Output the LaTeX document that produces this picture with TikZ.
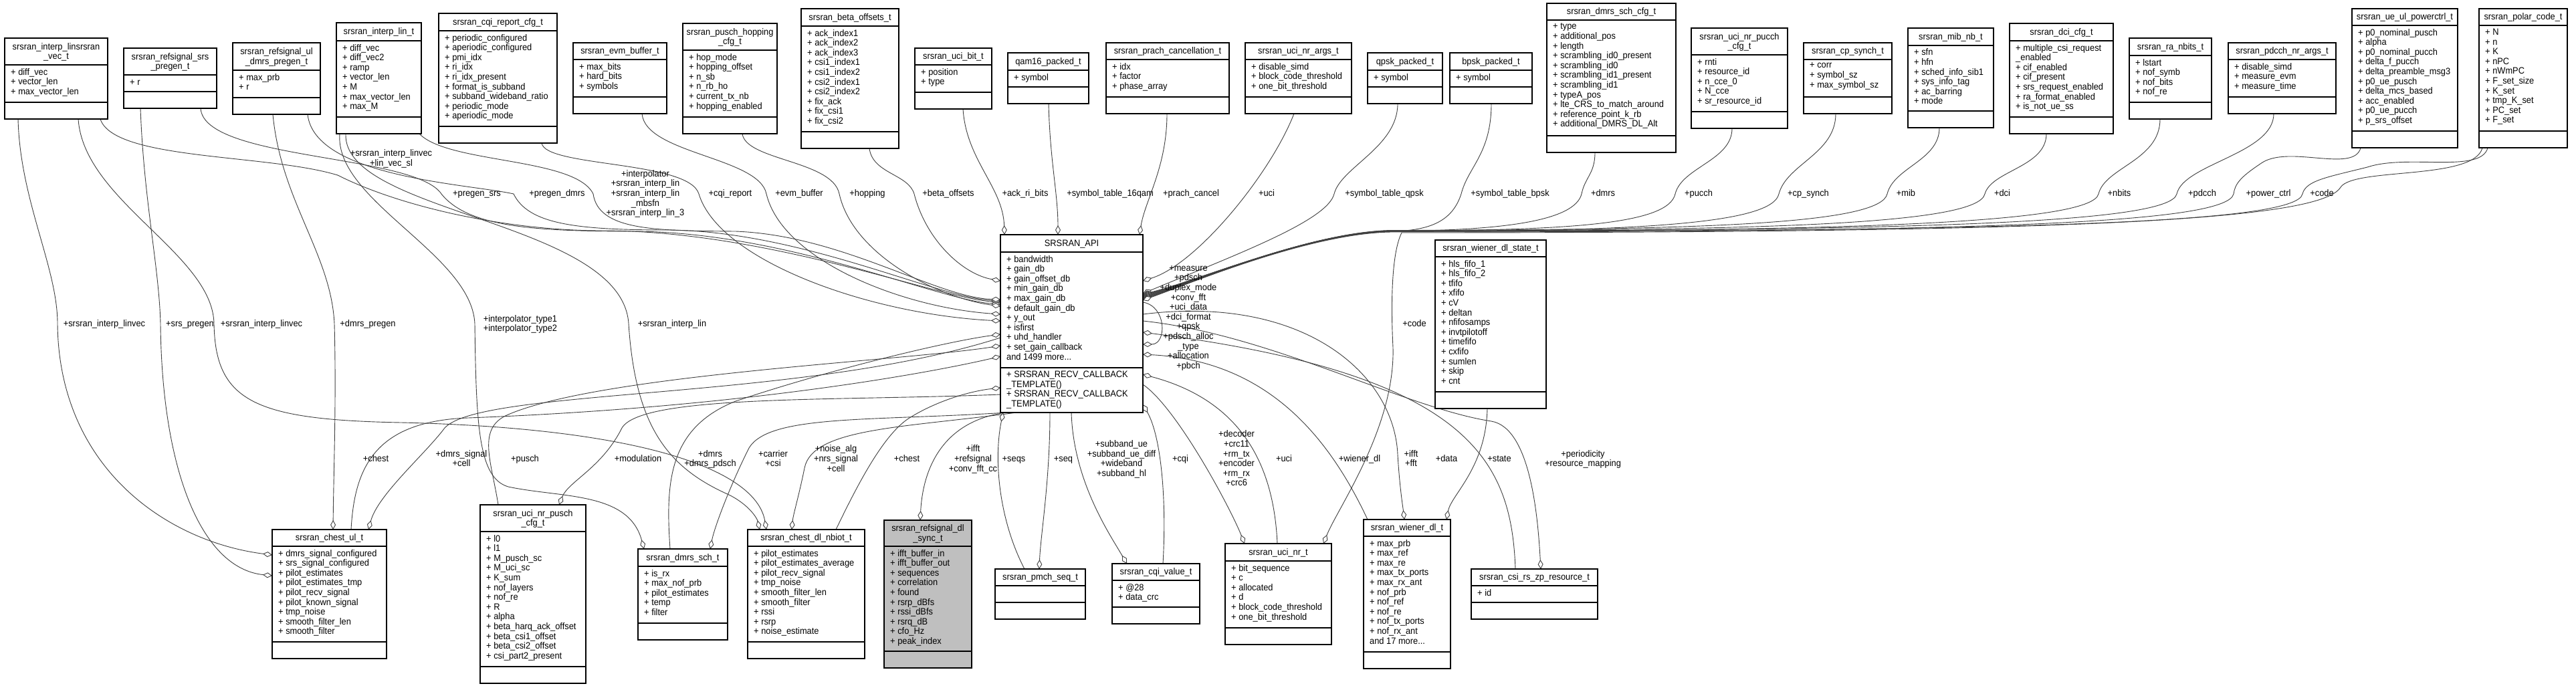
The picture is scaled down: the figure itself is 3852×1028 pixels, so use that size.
\documentclass[tikz,border=0pt]{standalone}
\usepackage{fontspec}
\setmainfont{Liberation Sans}[FakeStretch=0.93]
\usetikzlibrary{arrows.meta,calc}
\pgfdeclarelayer{back}
\pgfdeclarelayer{bg}
\pgfsetlayers{back,bg,main}
\definecolor{edgec}{HTML}{404040}
\definecolor{syncfill}{HTML}{BFBFBF}
\tikzset{
 clsbox/.style={draw=black, line width=1.2pt, inner sep=0pt, outer sep=0pt},
 sepline/.style={draw=black, line width=1.2pt},
 titletext/.style={align=center, inner sep=0pt, anchor=center, execute at begin node=\strut, execute at end node=\strut},
 attrtext/.style={align=left, inner sep=0pt, anchor=north west, execute at begin node=\strut},
 elabel/.style={align=center, inner sep=0pt, anchor=center, execute at begin node=\strut, execute at end node=\strut},
 aggr/.style={draw=edgec, line width=0.9pt, -{Diamond[length=14pt,width=8pt,fill=white]}},
}
\newcommand{\clsfill}{white}
\newcommand{\cls}[9]{%
 \node[clsbox, fill=\clsfill, minimum width=#4pt, minimum height={(#7-#3)*1pt}, anchor=north west] (#1) at (#2,#3) {};
 \draw[sepline] (#2,#5) -- ({#2+#4},#5);
 \draw[sepline] (#2,#6) -- ({#2+#4},#6);
 \node[titletext] (#1-t) at ({#2+#4/2},{(#3+#5)/2+1.5}) {#8};
 \node[attrtext] (#1-a) at ({#2+9},{#5+4.8}) {#9};
}
\begin{document}
\catcode`\_=12
\begin{tikzpicture}[x=1pt,y=-1pt,font=\fontsize{13.8pt}{14.6pt}\selectfont]
\begin{pgfonlayer}{back}
\fill[white] (0,0) rectangle (3852,1028);
\end{pgfonlayer}
\useasboundingbox (0,0) rectangle (3852,1028);

% ---------- top row ----------
\cls{vec}{7}{57}{154}{97}{153}{178}{srsran_interp_linsrsran\\_vec_t}{+ diff_vec\\+ vector_len\\+ max_vector_len}
\cls{srs}{185}{72}{139}{112}{137}{162}{srsran_refsignal_srs\\_pregen_t}{+ r}
\cls{uld}{348}{64}{131}{105}{146}{171}{srsran_refsignal_ul\\_dmrs_pregen_t}{+ max_prb\\+ r}
\cls{ilin}{503}{34}{127}{61}{175}{200}{srsran_interp_lin_t}{+ diff_vec\\+ diff_vec2\\+ ramp\\+ vector_len\\+ M\\+ max_vector_len\\+ max_M}
\cls{cqir}{656}{20}{177}{46}{189}{214}{srsran_cqi_report_cfg_t}{+ periodic_configured\\+ aperiodic_configured\\+ pmi_idx\\+ ri_idx\\+ ri_idx_present\\+ format_is_subband\\+ subband_wideband_ratio\\+ periodic_mode\\+ aperiodic_mode}
\cls{evm}{857}{64}{140}{89}{145}{170}{srsran_evm_buffer_t}{+ max_bits\\+ hard_bits\\+ symbols}
\cls{hop}{1021}{35}{141}{75}{175}{200}{srsran_pusch_hopping\\_cfg_t}{+ hop_mode\\+ hopping_offset\\+ n_sb\\+ n_rb_ho\\+ current_tx_nb\\+ hopping_enabled}
\cls{beta}{1198}{13}{146}{39}{197}{222}{srsran_beta_offsets_t}{+ ack_index1\\+ ack_index2\\+ ack_index3\\+ csi1_index1\\+ csi1_index2\\+ csi2_index1\\+ csi2_index2\\+ fix_ack\\+ fix_csi1\\+ fix_csi2}
\cls{ucib}{1368}{72}{115}{97}{138}{163}{srsran_uci_bit_t}{+ position\\+ type}
\cls{qam}{1507}{79}{121}{105}{130}{155}{qam16_packed_t}{+ symbol}
\cls{prach}{1654}{64}{184}{89}{145}{170}{srsran_prach_cancellation_t}{+ idx\\+ factor\\+ phase_array}
\cls{ucia}{1862}{64}{159}{89}{145}{170}{srsran_uci_nr_args_t}{+ disable_simd\\+ block_code_threshold\\+ one_bit_threshold}
\cls{qpsk}{2045}{79}{112}{105}{130}{155}{qpsk_packed_t}{+ symbol}
\cls{bpsk}{2168}{79}{123}{105}{130}{155}{bpsk_packed_t}{+ symbol}
\cls{dmrsc}{2313}{5}{193}{30}{203}{228}{srsran_dmrs_sch_cfg_t}{+ type\\+ additional_pos\\+ length\\+ scrambling_id0_present\\+ scrambling_id0\\+ scrambling_id1_present\\+ scrambling_id1\\+ typeA_pos\\+ lte_CRS_to_match_around\\+ reference_point_k_rb\\+ additional_DMRS_DL_Alt}
\cls{pucch}{2529}{42}{144}{82}{167}{192}{srsran_uci_nr_pucch\\_cfg_t}{+ rnti\\+ resource_id\\+ n_cce_0\\+ N_cce\\+ sr_resource_id}
\cls{cps}{2697}{64}{132}{89}{145}{170}{srsran_cp_synch_t}{+ corr\\+ symbol_sz\\+ max_symbol_sz}
\cls{mib}{2853}{42}{128}{68}{166}{191}{srsran_mib_nb_t}{+ sfn\\+ hfn\\+ sched_info_sib1\\+ sys_info_tag\\+ ac_barring\\+ mode}
\cls{dci}{3005}{35}{155}{61}{175}{200}{srsran_dci_cfg_t}{+ multiple_csi_request\\_enabled\\+ cif_enabled\\+ cif_present\\+ srs_request_enabled\\+ ra_format_enabled\\+ is_not_ue_ss}
\cls{ra}{3184}{57}{123}{83}{153}{178}{srsran_ra_nbits_t}{+ lstart\\+ nof_symb\\+ nof_bits\\+ nof_re}
\cls{pdcch}{3332}{64}{161}{89}{145}{170}{srsran_pdcch_nr_args_t}{+ disable_simd\\+ measure_evm\\+ measure_time}
\cls{pwr}{3517}{13}{158}{38}{196}{221}{srsran_ue_ul_powerctrl_t}{+ p0_nominal_pusch\\+ alpha\\+ p0_nominal_pucch\\+ delta_f_pucch\\+ delta_preamble_msg3\\+ p0_ue_pusch\\+ delta_mcs_based\\+ acc_enabled\\+ p0_ue_pucch\\+ p_srs_offset}
\cls{polar}{3707}{13}{132}{38}{196}{221}{srsran_polar_code_t}{+ N\\+ n\\+ K\\+ nPC\\+ nWmPC\\+ F_set_size\\+ K_set\\+ tmp_K_set\\+ PC_set\\+ F_set}

% ---------- centre ----------
\cls{api}{1496}{351}{213}{377}{550}{617}{SRSRAN_API}{+ bandwidth\\+ gain_db\\+ gain_offset_db\\+ min_gain_db\\+ max_gain_db\\+ default_gain_db\\+ y_out\\+ isfirst\\+ uhd_handler\\+ set_gain_callback\\and 1499 more...}
\node[attrtext] (api-m) at (1505,554.8) {+ SRSRAN_RECV_CALLBACK\\_TEMPLATE()\\+ SRSRAN_RECV_CALLBACK\\_TEMPLATE()};
\cls{wst}{2146}{359}{166}{384}{586}{611}{srsran_wiener_dl_state_t}{+ hls_fifo_1\\+ hls_fifo_2\\+ tfifo\\+ xfifo\\+ cV\\+ deltan\\+ nfifosamps\\+ invtpilotoff\\+ timefifo\\+ cxfifo\\+ sumlen\\+ skip\\+ cnt}

% ---------- bottom row ----------
\cls{chul}{407}{792}{171}{817}{960}{985}{srsran_chest_ul_t}{+ dmrs_signal_configured\\+ srs_signal_configured\\+ pilot_estimates\\+ pilot_estimates_tmp\\+ pilot_recv_signal\\+ pilot_known_signal\\+ tmp_noise\\+ smooth_filter_len\\+ smooth_filter}
\cls{pusch}{718}{755}{158}{795}{997}{1022}{srsran_uci_nr_pusch\\_cfg_t}{+ l0\\+ l1\\+ M_pusch_sc\\+ M_uci_sc\\+ K_sum\\+ nof_layers\\+ nof_re\\+ R\\+ alpha\\+ beta_harq_ack_offset\\+ beta_csi1_offset\\+ beta_csi2_offset\\+ csi_part2_present}
\cls{dsch}{954}{821}{134}{847}{932}{957}{srsran_dmrs_sch_t}{+ is_rx\\+ max_nof_prb\\+ pilot_estimates\\+ temp\\+ filter}
\cls{nbiot}{1118}{792}{175}{817}{960}{985}{srsran_chest_dl_nbiot_t}{+ pilot_estimates\\+ pilot_estimates_average\\+ pilot_recv_signal\\+ tmp_noise\\+ smooth_filter_len\\+ smooth_filter\\+ rssi\\+ rsrp\\+ noise_estimate}
\begin{scope}
\renewcommand{\clsfill}{syncfill}
\cls{sync}{1322}{778}{131}{817}{974}{999}{srsran_refsignal_dl\\_sync_t}{+ ifft_buffer_in\\+ ifft_buffer_out\\+ sequences\\+ correlation\\+ found\\+ rsrp_dBfs\\+ rssi_dBfs\\+ rsrq_dB\\+ cfo_Hz\\+ peak_index}
\end{scope}
\cls{pmch}{1488}{851}{135}{876}{901}{926}{srsran_pmch_seq_t}{}
\cls{cqiv}{1663}{843}{131}{868}{908}{933}{srsran_cqi_value_t}{+ @28\\+ data_crc}
\cls{ucinr}{1832}{813}{159}{839}{939}{964}{srsran_uci_nr_t}{+ bit_sequence\\+ c\\+ allocated\\+ d\\+ block_code_threshold\\+ one_bit_threshold}
\cls{wdl}{2039}{777}{130}{802}{975}{1000}{srsran_wiener_dl_t}{+ max_prb\\+ max_ref\\+ max_re\\+ max_tx_ports\\+ max_rx_ant\\+ nof_prb\\+ nof_ref\\+ nof_re\\+ nof_tx_ports\\+ nof_rx_ant\\and 17 more...}
\cls{csi}{2200}{851}{189}{876}{901}{926}{srsran_csi_rs_zp_resource_t}{+ id}

% ---------- connectors ----------
\begin{pgfonlayer}{bg}
% top-left boxes -> API
\draw[aggr] ($(vec.north west)+(143,121)$) .. controls (170,240) and (400,230) .. (505,262) .. controls (600,310) and (760,345) .. (900,345) .. controls (1150,345) and (1400,445) .. ($(api.north west)+(0,101)$);
\draw[aggr] ($(srs.north west)+(115,90)$) .. controls (305,240) and (620,230) .. (660,290) .. controls (700,340) and (800,346) .. (950,346) .. controls (1180,348) and (1400,448) .. ($(api.north west)+(0,104)$);
\draw[aggr] ($(uld.north west)+(112,107)$) .. controls (470,265) and (700,275) .. (768,290) .. controls (790,335) and (860,344) .. (1000,344) .. controls (1200,346) and (1400,445) .. ($(api.north west)+(0,99)$);
\draw[aggr] ($(ilin.north west)+(124,166)$) .. controls (670,245) and (860,235) .. (887,290) .. controls (895,345) and (980,345) .. (1100,346) .. controls (1260,352) and (1400,445) .. ($(api.north west)+(0,97)$);
\draw[aggr] ($(cqir.north west)+(154,194)$) .. controls (815,250) and (1030,240) .. (1045,290) .. controls (1075,390) and (1300,470) .. ($(api.north west)+(0,129)$);
\draw[aggr] ($(evm.north west)+(103,106)$) .. controls (965,230) and (1135,235) .. (1146,290) .. controls (1170,390) and (1350,460) .. ($(api.north west)+(0,119)$);
\draw[aggr] ($(hop.north west)+(89,165)$) .. controls (1115,240) and (1245,240) .. (1255,290) .. controls (1275,380) and (1400,445) .. ($(api.north west)+(0,107)$);
\draw[aggr] ($(beta.north west)+(102,209)$) .. controls (1305,260) and (1358,260) .. (1367,290) .. controls (1385,360) and (1440,410) .. ($(api.north west)+(0,69)$);
\draw[aggr] ($(ucib.north west)+(72,91)$) .. controls (1445,240) and (1500,280) .. ($(api.north west)+(6,0)$);
\draw[aggr] ($(qam.north west)+(61,76)$) .. controls (1570,240) and (1582,290) .. ($(api.north west)+(86,0)$);
\draw[aggr] ($(prach.north west)+(91,106)$) .. controls (1745,250) and (1712,300) .. ($(api.north west)+(208,0)$);
\draw[aggr] ($(ucia.north west)+(73,106)$) .. controls (1900,260) and (1790,395) .. ($(api.north west)+(213,69)$);
% top-right boxes -> API (bundle)
\draw[aggr] ($(qpsk.north west)+(45,76)$) .. controls (2090,220) and (2005,250) .. (1995,290) .. controls (1985,330) and (1850,380) .. ($(api.north west)+(213,88)$);
\draw[aggr] ($(bpsk.north west)+(62,76)$) .. controls (2230,230) and (2195,250) .. (2185,290) .. controls (2172,330) and (2140,345) .. (2080,346) .. controls (1960,348) and (1790,420) .. ($(api.north west)+(213,89)$);
\draw[aggr] ($(dmrsc.north west)+(72,223)$) .. controls (2385,260) and (2370,265) .. (2365,290) .. controls (2355,330) and (2250,345) .. (2080,345.5) .. controls (1960,347) and (1790,420) .. ($(api.north west)+(213,90)$);
\draw[aggr] ($(pucch.north west)+(61,150)$) .. controls (2590,240) and (2515,250) .. (2505,290) .. controls (2495,335) and (2350,345) .. (2080,345) .. controls (1960,347) and (1790,420) .. ($(api.north west)+(213,91)$);
\draw[aggr] ($(cps.north west)+(48,106)$) .. controls (2745,230) and (2672,245) .. (2660,290) .. controls (2650,335) and (2450,346) .. (2080,346.5) .. controls (1960,348) and (1790,420) .. ($(api.north west)+(213,92)$);
\draw[aggr] ($(mib.north west)+(47,149)$) .. controls (2900,240) and (2832,250) .. (2822,290) .. controls (2812,335) and (2550,344) .. (2080,344.5) .. controls (1960,347) and (1790,420) .. ($(api.north west)+(213,93)$);
\draw[aggr] ($(dci.north west)+(55,165)$) .. controls (3060,250) and (2978,255) .. (2968,290) .. controls (2958,335) and (2650,345) .. (2080,345) .. controls (1960,347) and (1790,420) .. ($(api.north west)+(213,94)$);
\draw[aggr] ($(ra.north west)+(46,121)$) .. controls (3230,240) and (3148,250) .. (3138,290) .. controls (3128,335) and (2750,346) .. (2080,346) .. controls (1960,348) and (1790,420) .. ($(api.north west)+(213,95)$);
\draw[aggr] ($(pdcch.north west)+(68,106)$) .. controls (3400,230) and (3265,245) .. (3255,290) .. controls (3245,335) and (2850,345) .. (2080,345.5) .. controls (1960,347) and (1790,420) .. ($(api.north west)+(213,96)$);
\draw[aggr] ($(pwr.north west)+(13,208)$) .. controls (3520,260) and (3420,215) .. (3380,245) .. controls (3350,265) and (3342,275) .. (3340,290) .. controls (3330,335) and (2950,347) .. (2080,347) .. controls (1960,349) and (1790,420) .. ($(api.north west)+(213,97)$);
\draw[aggr] ($(polar.north west)+(13,208)$) .. controls (3710,260) and (3600,230) .. (3540,250) .. controls (3480,265) and (3448,270) .. (3443,290) .. controls (3435,335) and (3000,346) .. (2080,346) .. controls (1960,348) and (1790,420) .. ($(api.north west)+(213,98)$);
\draw[aggr] ($(polar.north west)+(5,208)$) .. controls (3700,270) and (3520,250) .. (3500,280) .. controls (3470,330) and (3100,348) .. (2096,348) .. controls (2080,380) and (2080,460) .. (2083,520) .. controls (2086,640) and (2000,760) .. ($(ucinr.north west)+(147,0)$);
% self loop
\draw[aggr] ($(api.north west)+(213,101)$) .. controls (1745,458) and (1745,515) .. ($(api.north west)+(213,164)$);
% top-left boxes -> bottom boxes
\draw[aggr] ($(vec.north west)+(20,121)$) .. controls (30,300) and (86,400) .. (86,484) .. controls (88,700) and (250,810) .. ($(chul.north west)+(0,38)$);
\draw[aggr] ($(srs.north west)+(25,90)$) .. controls (215,300) and (238,400) .. (240,484) .. controls (242,700) and (300,850) .. ($(chul.north west)+(0,69)$);
\draw[aggr] ($(vec.north west)+(110,121)$) .. controls (125,300) and (318,380) .. (320,484) .. controls (322,600) and (380,628) .. (600,632) .. controls (950,640) and (1130,700) .. ($(nbiot.north west)+(28,0)$);
\draw[aggr] ($(uld.north west)+(60,107)$) .. controls (420,300) and (495,380) .. (500,484) .. controls (503,600) and (499,700) .. ($(chul.north west)+(91,0)$);
\draw[aggr] ($(ilin.north west)+(5,166)$) .. controls (500,300) and (705,380) .. (710,484) .. controls (712,640) and (716,715) .. (760,728) .. controls (840,745) and (940,735) .. ($(dsch.north west)+(9,0)$);
\draw[aggr] ($(ilin.north west)+(14,166)$) .. controls (512,320) and (930,330) .. (940,484) .. controls (950,640) and (1000,700) .. (1090,740) .. controls (1120,755) and (1132,775) .. ($(nbiot.north west)+(18,0)$);
% API <-> bottom boxes
\draw[aggr] ($(api.north west)+(0,154)$) .. controls (1200,600) and (720,580) .. (665,640) .. controls (635,680) and (565,740) .. ($(chul.north west)+(144,0)$);
\draw[aggr] ($(chul.north west)+(118,0)$) .. controls (530,700) and (560,630) .. (700,625) .. controls (1100,610) and (1380,560) .. ($(api.north west)+(0,182)$);
\draw[aggr] ($(pusch.north west)+(27,0)$) .. controls (735,690) and (712,640) .. (760,620) .. controls (900,560) and (1350,540) .. ($(api.north west)+(0,166)$);
\draw[aggr] ($(api.north west)+(0,239)$) .. controls (1250,600) and (960,590) .. (930,640) .. controls (900,700) and (850,720) .. ($(pusch.north west)+(118,0)$);
\draw[aggr] ($(dsch.north west)+(48,0)$) .. controls (995,720) and (1000,640) .. (1100,600) .. controls (1250,550) and (1420,510) .. ($(api.north west)+(0,149)$);
\draw[aggr] ($(api.north west)+(10,266)$) .. controls (1300,630) and (1150,620) .. (1120,670) .. controls (1090,730) and (1068,790) .. ($(dsch.north west)+(108,0)$);
\draw[aggr] ($(api.north west)+(24,266)$) .. controls (1350,640) and (1215,640) .. (1203,700) .. controls (1195,740) and (1186,770) .. ($(nbiot.north west)+(66,0)$);
\draw[aggr] ($(nbiot.north west)+(132,0)$) .. controls (1280,730) and (1320,650) .. (1360,625) .. controls (1400,600) and (1450,585) .. ($(api.north west)+(0,229)$);
\draw[aggr] ($(api.north west)+(8,266)$) .. controls (1410,630) and (1380,700) .. ($(sync.north west)+(54,0)$);
\draw[aggr] ($(pmch.north west)+(44,0)$) .. controls (1495,780) and (1485,690) .. ($(api.north west)+(4,266)$);
\draw[aggr] ($(api.north west)+(74,266)$) .. controls (1570,720) and (1556,800) .. ($(pmch.north west)+(66,0)$);
\draw[aggr] ($(api.north west)+(106,266)$) .. controls (1605,720) and (1660,800) .. ($(cqiv.north west)+(22,0)$);
\draw[aggr] ($(cqiv.north west)+(76,0)$) .. controls (1745,740) and (1735,650) .. ($(api.north west)+(213,254)$);
\draw[aggr] ($(api.north west)+(213,224)$) .. controls (1760,610) and (1840,760) .. ($(ucinr.north west)+(29,0)$);
\draw[aggr] ($(ucinr.north west)+(78,0)$) .. controls (1905,700) and (1860,600) .. ($(api.north west)+(213,209)$);
\draw[aggr] ($(wdl.north west)+(6,0)$) .. controls (1990,660) and (1900,540) .. ($(api.north west)+(213,179)$);
\draw[aggr] ($(api.north west)+(213,119)$) .. controls (1950,440) and (2085,560) .. (2090,680) .. controls (2093,730) and (2098,760) .. ($(wdl.north west)+(61,0)$);
\draw[aggr] ($(wst.north west)+(78,252)$) .. controls (2222,700) and (2170,740) .. ($(wdl.north west)+(124,0)$);
\draw[aggr] ($(csi.north west)+(66,0)$) .. controls (2260,690) and (2200,560) .. ($(api.north west)+(213,146)$);
\draw[aggr] ($(api.north west)+(213,129)$) .. controls (1900,500) and (2100,610) .. (2230,630) .. controls (2290,640) and (2300,780) .. ($(csi.north west)+(104,0)$);
\end{pgfonlayer}

% ---------- connector labels ----------
\node[elabel] (l1) at (585,238) {+srsran_interp_linvec\\+lin_vec_sl};
\node[elabel] (l2) at (713,290.6) {+pregen_srs};
\node[elabel] (l3) at (833,290.6) {+pregen_dmrs};
\node[elabel] (l4) at (965,290.6) {+interpolator\\+srsran_interp_lin\\+srsran_interp_lin\\_mbsfn\\+srsran_interp_lin_3};
\node[elabel] (l5) at (1092,290.6) {+cqi_report};
\node[elabel] (l6) at (1195,290.6) {+evm_buffer};
\node[elabel] (l7) at (1297,290.6) {+hopping};
\node[elabel] (l8) at (1418,290.6) {+beta_offsets};
\node[elabel] (l9) at (1533,290.6) {+ack_ri_bits};
\node[elabel] (l10) at (1660,290.6) {+symbol_table_16qam};
\node[elabel] (l11) at (1781,290.6) {+prach_cancel};
\node[elabel] (l12) at (1894,290.6) {+uci};
\node[elabel] (l13) at (2070,290.6) {+symbol_table_qpsk};
\node[elabel] (l14) at (2258,290.6) {+symbol_table_bpsk};
\node[elabel] (l15) at (2397,290.6) {+dmrs};
\node[elabel] (l16) at (2540,290.6) {+pucch};
\node[elabel] (l17) at (2704,290.6) {+cp_synch};
\node[elabel] (l18) at (2850,290.6) {+mib};
\node[elabel] (l19) at (2994,290.6) {+dci};
\node[elabel] (l20) at (3169,290.6) {+nbits};
\node[elabel] (l21) at (3293,290.6) {+pdcch};
\node[elabel] (l22) at (3392,290.6) {+power_ctrl};
\node[elabel] (l23) at (3472,290.6) {+code};
\node[elabel] (l24) at (1777,476.6) {+measure\\+pdsch\\+duplex_mode\\+conv_fft\\+uci_data\\+dci_format\\+qpsk\\+pdsch_alloc\\_type\\+allocation\\+pbch};
\node[elabel] (l25) at (2115,485.6) {+code};
\node[elabel] (l26) at (156,485.6) {+srsran_interp_linvec};
\node[elabel] (l27) at (284,485.6) {+srs_pregen};
\node[elabel] (l28) at (391,485.6) {+srsran_interp_linvec};
\node[elabel] (l29) at (550,485.6) {+dmrs_pregen};
\node[elabel] (l30) at (778,485.6) {+interpolator_type1\\+interpolator_type2};
\node[elabel] (l31) at (1005,485.6) {+srsran_interp_lin};
\node[elabel] (l32) at (562,687.6) {+chest};
\node[elabel] (l33) at (690,687.6) {+dmrs_signal\\+cell};
\node[elabel] (l34) at (785,687.6) {+pusch};
\node[elabel] (l35) at (954,687.6) {+modulation};
\node[elabel] (l36) at (1062,687.6) {+dmrs\\+dmrs_pdsch};
\node[elabel] (l37) at (1156,687.6) {+carrier\\+csi};
\node[elabel] (l38) at (1250,687.6) {+noise_alg\\+nrs_signal\\+cell};
\node[elabel] (l39) at (1356,687.6) {+chest};
\node[elabel] (l40) at (1455,687.6) {+ifft\\+refsignal\\+conv_fft_cc};
\node[elabel] (l41) at (1516,687.6) {+seqs};
\node[elabel] (l42) at (1590,687.6) {+seq};
\node[elabel] (l43) at (1677,687.6) {+subband_ue\\+subband_ue_diff\\+wideband\\+subband_hl};
\node[elabel] (l44) at (1765,687.6) {+cqi};
\node[elabel] (l45) at (1849,687.6) {+decoder\\+crc11\\+rm_tx\\+encoder\\+rm_rx\\+crc6};
\node[elabel] (l46) at (1920,687.6) {+uci};
\node[elabel] (l47) at (2033,687.6) {+wiener_dl};
\node[elabel] (l48) at (2110,687.6) {+ifft\\+fft};
\node[elabel] (l49) at (2163,687.6) {+data};
\node[elabel] (l50) at (2242,687.6) {+state};
\node[elabel] (l51) at (2367,687.6) {+periodicity\\+resource_mapping};
\end{tikzpicture}
\end{document}
